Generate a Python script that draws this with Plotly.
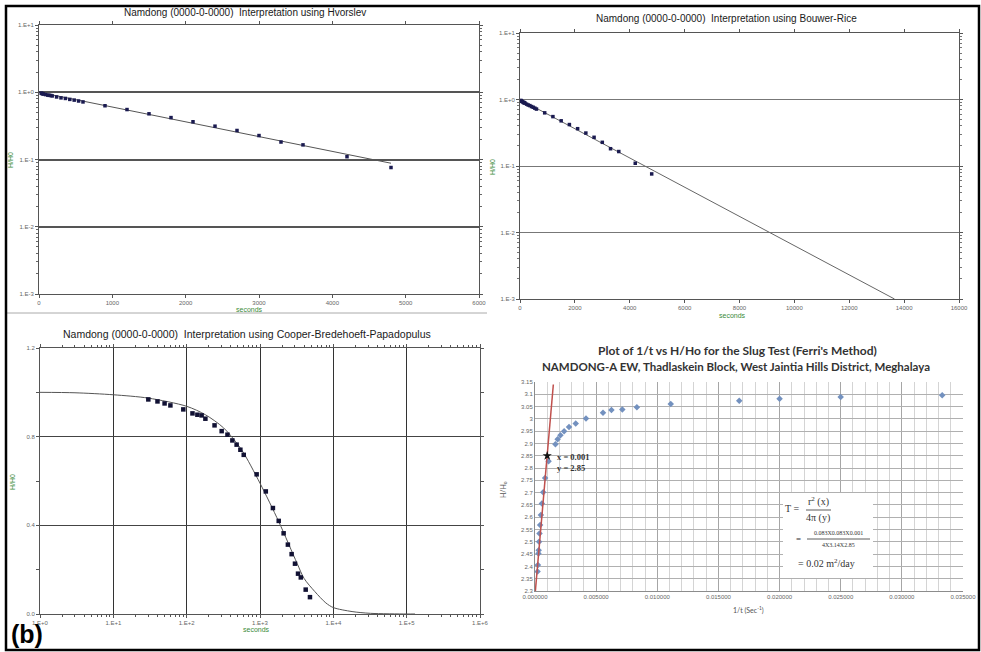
import plotly.graph_objects as go

W, H = 981, 652

# ---------------- data ----------------
times = [30, 40, 50, 60, 90, 120, 140, 160, 180, 240, 300, 360, 420, 480, 540, 600,
         900, 1200, 1500, 1800, 2100, 2400, 2700, 3000, 3300, 3600, 4200, 4800]
h_ratio = [0.968, 0.959, 0.950, 0.941, 0.923, 0.905, 0.899, 0.896, 0.881, 0.851, 0.825,
           0.809, 0.783, 0.764, 0.741, 0.718, 0.630, 0.553, 0.478, 0.420, 0.364, 0.313,
           0.270, 0.227, 0.182, 0.165, 0.110, 0.076]

hvorslev_fit_t = [0, 4800]
hvorslev_fit_h = [1.0, 0.088]

bouwer_fit_t = [0, 13650]
bouwer_fit_h = [1.0, 0.001]

cbp_curve_t = [1, 3, 10, 30, 100, 180, 320, 560, 1000, 1800, 3200, 4000, 5600, 7900,
               10000, 18000, 32000, 100000, 130000]
cbp_curve_h = [1.0, 0.998, 0.989, 0.974, 0.937, 0.899, 0.839, 0.741, 0.590, 0.417,
               0.229, 0.160, 0.101, 0.050, 0.029, 0.011, 0.003, 0.0, 0.0]

ferris_inv_t = [0.0333, 0.0250, 0.0200, 0.0167, 0.0111, 0.00833, 0.00714, 0.00625,
                0.00556, 0.00417, 0.00333, 0.00278, 0.00238, 0.00208, 0.00185, 0.00167,
                0.00111, 0.00083, 0.00067, 0.00056, 0.00048, 0.00042, 0.00037, 0.00033,
                0.00030, 0.00028, 0.00024, 0.00021]
ferris_head = [3.096, 3.089, 3.082, 3.074, 3.061, 3.047, 3.038, 3.036, 3.025, 3.002,
               2.981, 2.967, 2.950, 2.933, 2.917, 2.897, 2.828, 2.760, 2.702, 2.656,
               2.609, 2.568, 2.534, 2.500, 2.466, 2.453, 2.406, 2.379]
ferris_line_x = [0.00003, 0.0015]
ferris_line_y = [2.30, 3.14]
ferris_pick_x = [0.001]
ferris_pick_y = [2.85]

log_tickvals = [0.001, 0.01, 0.1, 1, 10]
log_ticktext = ["1.E-3", "1.E-2", "1.E-1", "1.E+0", "1.E+1"]
decade_tickvals = [1, 10, 100, 1000, 10000, 100000, 1000000]
decade_ticktext = ["1.E+0", "1.E+1", "1.E+2", "1.E+3", "1.E+4", "1.E+5", "1.E+6"]
cbp_ytickvals = [0.0, 0.4, 0.8, 1.2]
cbp_yticktext = ["0.0", "0.4", "0.8", "1.2"]
ferris_ytickvals = [3.15, 3.1, 3.05, 3.0, 2.95, 2.9, 2.85, 2.8, 2.75, 2.7, 2.65, 2.6,
                    2.55, 2.5, 2.45, 2.4, 2.35, 2.3]
ferris_yticktext = ["3.15", "3.1", "3.05", "3", "2.95", "2.9", "2.85", "2.8", "2.75", "2.7",
                    "2.65", "2.6", "2.55", "2.5", "2.45", "2.4", "2.35", "2.3"]

# ---------------- helpers ----------------
def dom_x(a, b):
    return [a / W, b / W]

def dom_y(top, bottom):
    return [1 - bottom / H, 1 - top / H]

def px(x):
    return x / W

def py(y):
    return 1 - y / H

minor_log = [m * d for d in [0.001, 0.01, 0.1, 1] for m in range(2, 10)]
minor_log_x = [m * d for d in [1, 10, 100, 1000, 10000, 100000] for m in range(2, 10)]

tickfont = dict(family="Liberation Sans", size=6, color="#666")
GREEN = "#3a8a3a"

fig = go.Figure()

# Panel 1: Hvorslev
fig.add_trace(go.Scatter(x=hvorslev_fit_t, y=hvorslev_fit_h, mode="lines",
                         line=dict(color="#555", width=1), xaxis="x", yaxis="y"))
fig.add_trace(go.Scatter(x=times, y=h_ratio, mode="markers",
                         marker=dict(symbol="square", size=3.5, color="#1a1a50"),
                         xaxis="x", yaxis="y"))

# Panel 2: Bouwer-Rice
fig.add_trace(go.Scatter(x=bouwer_fit_t, y=bouwer_fit_h, mode="lines",
                         line=dict(color="#666", width=1), xaxis="x2", yaxis="y2"))
fig.add_trace(go.Scatter(x=times, y=h_ratio, mode="markers",
                         marker=dict(symbol="square", size=3.5, color="#1a1a50"),
                         xaxis="x2", yaxis="y2"))

# Panel 3: Cooper-Bredehoeft-Papadopulos
fig.add_trace(go.Scatter(x=cbp_curve_t, y=cbp_curve_h, mode="lines",
                         line=dict(color="#555", width=1, shape="spline", smoothing=0.8),
                         xaxis="x3", yaxis="y3"))
fig.add_trace(go.Scatter(x=times, y=h_ratio, mode="markers",
                         marker=dict(symbol="square", size=4.5, color="#111133"),
                         xaxis="x3", yaxis="y3"))

# Panel 4: Ferris
fig.add_trace(go.Scatter(x=ferris_inv_t, y=ferris_head, mode="markers",
                         marker=dict(symbol="diamond", size=5, color="#7391bf"),
                         xaxis="x4", yaxis="y4"))
fig.add_trace(go.Scatter(x=ferris_line_x, y=ferris_line_y, mode="lines",
                         line=dict(color="#c0504d", width=1.5), xaxis="x4", yaxis="y4"))
fig.add_trace(go.Scatter(x=ferris_pick_x, y=ferris_pick_y, mode="markers",
                         marker=dict(symbol="star", size=7, color="#111"),
                         xaxis="x4", yaxis="y4"))

common_axis = dict(showline=True, linecolor="#555", linewidth=1, mirror="allticks",
                   ticks="outside", ticklen=3, tickcolor="#555", tickfont=tickfont,
                   zeroline=False, automargin=False)

layout = dict(
    width=W, height=H, margin=dict(l=0, r=0, t=0, b=0, autoexpand=False),
    paper_bgcolor="white", plot_bgcolor="white", showlegend=False,
    # panel 1
    xaxis=dict(domain=dom_x(39, 479), range=[0, 6000], dtick=1000, tickformat="d",
               anchor="y", showgrid=False, **common_axis),
    yaxis=dict(domain=dom_y(25, 294), type="log", range=[-3, 1], anchor="x",
               tickvals=log_tickvals, ticktext=log_ticktext, showgrid=True,
               gridcolor="#555", gridwidth=1.6,
               minor=dict(tickvals=minor_log, ticks="outside", ticklen=2,
                          tickcolor="#666", showgrid=False),
               **common_axis),
    # panel 2
    xaxis2=dict(domain=dom_x(520, 959), range=[0, 16000], dtick=2000, tickformat="d",
                anchor="y2", showgrid=False, **common_axis),
    yaxis2=dict(domain=dom_y(33, 299), type="log", range=[-3, 1], anchor="x2",
                tickvals=log_tickvals, ticktext=log_ticktext, showgrid=True,
                gridcolor="#777", gridwidth=1.3,
                minor=dict(tickvals=minor_log, ticks="outside", ticklen=2,
                           tickcolor="#777", showgrid=False),
                **common_axis),
    # panel 3
    xaxis3=dict(domain=dom_x(40, 480), type="log", range=[0, 6], anchor="y3",
                tickvals=decade_tickvals, ticktext=decade_ticktext, showgrid=True,
                gridcolor="#333", gridwidth=1.2,
                minor=dict(tickvals=minor_log_x, ticks="outside", ticklen=2,
                           tickcolor="#555", showgrid=False),
                **common_axis),
    yaxis3=dict(domain=dom_y(348, 614), range=[0, 1.2], anchor="x3",
                tickvals=cbp_ytickvals, ticktext=cbp_yticktext, showgrid=True,
                gridcolor="#444", gridwidth=1.2,
                minor=dict(tickvals=[0.2, 0.6, 1.0], ticks="outside", ticklen=3,
                           tickcolor="#555", showgrid=False),
                **common_axis),
    # panel 4
    xaxis4=dict(domain=dom_x(535, 963), range=[0, 0.035], dtick=0.005, tickformat=".6f",
                anchor="y4", showgrid=True, gridcolor="#a6a6a6", gridwidth=1,
                minor=dict(dtick=0.001, showgrid=True, gridcolor="#d4d4d4", gridwidth=1),
                showline=True, linecolor="#8c8c8c", linewidth=1, ticks="",
                tickfont=tickfont, zeroline=False, automargin=False),
    yaxis4=dict(domain=dom_y(382, 591), range=[2.3, 3.15], anchor="x4",
                tickvals=ferris_ytickvals, ticktext=ferris_yticktext,
                showgrid=True, gridcolor="#b0b0b0", gridwidth=1,
                showline=True, linecolor="#8c8c8c", linewidth=1, ticks="",
                tickfont=tickfont, zeroline=False, automargin=False),
)
fig.update_layout(**layout)

anns = []

def ann(text, x, y, size, color="#222", family="Liberation Sans", angle=0,
        xanchor="center"):
    anns.append(dict(text=text, x=px(x), y=py(y), xref="paper", yref="paper",
                     showarrow=False, xanchor=xanchor, yanchor="middle",
                     textangle=angle, font=dict(family=family, size=size, color=color)))

# titles
ann("Namdong (0000-0-0000)  Interpretation using Hvorslev", 245, 13, 10, "#1a1a1a")
ann("Namdong (0000-0-0000)  Interpretation using Bouwer-Rice", 726, 19, 10, "#1a1a1a")
ann("Namdong (0000-0-0000)  Interpretation using Cooper-Bredehoeft-Papadopulus",
    247, 334, 10.5, "#1a1a1a")
ann("<b>Plot of 1/t vs H/Ho for the Slug Test (Ferri's Method)</b>", 737, 350, 12,
    "#333", family="Lato")
ann("<b>NAMDONG-A EW, Thadlaskein Block, West Jaintia Hills District, Meghalaya</b>",
    736, 366, 11.5, "#333", family="Lato")

# axis titles
ann("seconds", 250, 309, 7, GREEN)
ann("H/H0", 10, 160, 7, GREEN, angle=-90)
ann("seconds", 732, 315, 7, GREEN)
ann("H/H0", 493, 167, 7, GREEN, angle=-90)
ann("seconds", 256, 629, 7, GREEN)
ann("H/H0", 13, 482, 7, GREEN, angle=-90)
ann("1/t (Sec<sup>-1</sup>)", 748, 610, 7, "#555", family="Lato")
ann("H/H<sub>o</sub>", 503, 490, 7, "#555", family="Lato", angle=-90)

# Ferris pick annotation
ann("<b>x = 0.001</b>", 555, 457, 8.5, "#333", family="Liberation Serif", xanchor="left")
ann("<b>y = 2.85</b>", 555, 468, 8.5, "#333", family="Liberation Serif", xanchor="left")

# formula box
ann("T =", 792, 508, 10, "#333", family="Liberation Serif")
ann("r<sup>2</sup> (x)", 818, 501, 10, "#333", family="Liberation Serif")
ann("4\u03c0 (y)", 818, 518, 10, "#333", family="Liberation Serif")
ann("=", 798, 539, 9, "#333", family="Liberation Serif")
ann("0.083X0.083X0.001", 838, 533, 6, "#333", family="Liberation Serif")
ann("4X3.14X2.85", 838, 545, 6, "#333", family="Liberation Serif")
ann("= 0.02 m<sup>2</sup>/day", 826, 563, 10, "#333", family="Liberation Serif")

# figure label
ann("<b>(b)</b>", 27, 634, 25, "#000")

fig.update_layout(annotations=anns)

shapes = [
    # white formula box
    dict(type="rect", xref="paper", yref="paper", x0=px(783), x1=px(873),
         y0=py(578), y1=py(493), fillcolor="white", line=dict(width=0), layer="above"),
    # fraction bars
    dict(type="line", xref="paper", yref="paper", x0=px(806), x1=px(831),
         y0=py(510), y1=py(510), line=dict(color="#333", width=0.8)),
    dict(type="line", xref="paper", yref="paper", x0=px(807), x1=px(870),
         y0=py(539), y1=py(539), line=dict(color="#333", width=0.8)),
    # separator under top-left panel
    dict(type="line", xref="paper", yref="paper", x0=px(6), x1=px(487),
         y0=py(313), y1=py(313), line=dict(color="#aaa", width=1)),
    # outer frame
    dict(type="rect", xref="paper", yref="paper", x0=px(6), x1=px(979),
         y0=py(650), y1=py(6), line=dict(color="#000", width=2.5)),
]
fig.update_layout(shapes=shapes)

fig.write_html("out.html", config={"displayModeBar": False},
               post_script="document.body.style.margin='0';"
                           "document.body.style.overflow='hidden';")
